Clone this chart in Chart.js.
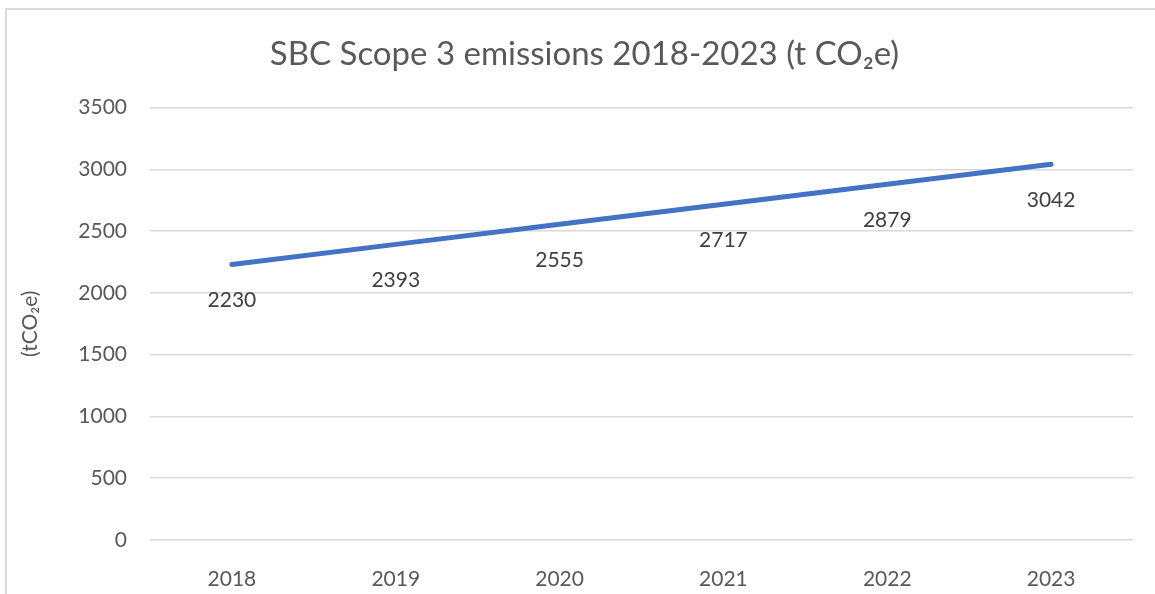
<!DOCTYPE html>
<html>
<head>
<meta charset="utf-8">
<script src="https://cdn.jsdelivr.net/npm/chart.js@4/dist/chart.umd.min.js"></script>
<style>
  html, body { margin: 0; padding: 0; background: #fff; }
  #wrap { position: relative; width: 1155px; height: 594px; overflow: hidden; }
  #frame { position: absolute; left: 5px; top: 8px; width: 1160px; height: 600px;
           border-left: 2px solid #d9d9d9; border-top: 2px solid #d9d9d9; }
  canvas { position: absolute; left: 0; top: 0; }
</style>
</head>
<body>
<div id="wrap">
  <div id="frame"></div>
  <canvas id="chart" width="1155" height="594"></canvas>
</div>
<script>
// chart data
const years = ['2018', '2019', '2020', '2021', '2022', '2023'];
const scope3 = [2230, 2393, 2555, 2717, 2879, 3042];

const FONT = 'Lato, "Open Sans", sans-serif';

// draw the value labels under each point
const labelsBelow = {
  id: 'labelsBelow',
  afterDatasetsDraw(chart) {
    const ctx = chart.ctx;
    const meta = chart.getDatasetMeta(0);
    ctx.save();
    ctx.font = '21px ' + FONT;
    ctx.fillStyle = '#404040';
    ctx.textAlign = 'center';
    ctx.textBaseline = 'middle';
    meta.data.forEach((pt, i) => {
      ctx.fillText(String(scope3[i]), pt.x, pt.y + 36);
    });
    ctx.restore();
  }
};

new Chart(document.getElementById('chart'), {
  type: 'line',
  data: {
    labels: years,
    datasets: [{
      data: scope3,
      borderColor: '#4472c4',
      borderWidth: 5,
      borderCapStyle: 'round',
      pointRadius: 0,
      tension: 0
    }]
  },
  options: {
    responsive: false,
    animation: false,
    layout: { padding: { left: 36, right: 22, top: 0, bottom: 0 } },
    plugins: {
      legend: { display: false },
      tooltip: { enabled: false },
      title: {
        display: true,
        text: 'SBC Scope 3 emissions 2018-2023 (t CO₂e)',
        color: '#595959',
        font: { family: FONT, size: 33, weight: 'normal', lineHeight: 1.2 },
        padding: { top: 35, bottom: 33 }
      }
    },
    scales: {
      x: {
        offset: true,
        grid: { display: false },
        border: { display: false },
        ticks: { color: '#595959', font: { family: FONT, size: 21 }, padding: 19 },
        afterFit(s) { s.height = 54; }
      },
      y: {
        min: 0,
        max: 3500,
        ticks: {
          stepSize: 500,
          color: '#595959',
          font: { family: FONT, size: 21 },
          padding: 23,
          callback: (v) => String(v)
        },
        grid: { color: '#d9d9d9', lineWidth: 1.5, drawTicks: false },
        border: { display: false },
        title: {
          display: true,
          text: '(tCO₂e)',
          color: '#595959',
          font: { family: FONT, size: 21 },
          padding: { top: -18, bottom: 0 }
        },
        afterFit(s) { s.width = 114; }
      }
    }
  },
  plugins: [labelsBelow]
});
</script>
</body>
</html>
